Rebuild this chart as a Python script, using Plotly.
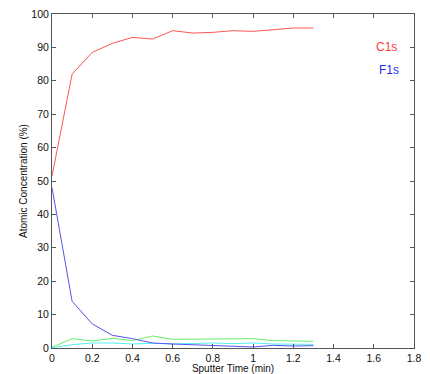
import plotly.graph_objects as go

time = [0, 0.1, 0.2, 0.3, 0.4, 0.5, 0.6, 0.7, 0.8, 0.9, 1.0, 1.1, 1.2, 1.3]
c1s = [51.5, 82.0, 88.5, 91.2, 93.0, 92.5, 95.0, 94.3, 94.5, 95.0, 94.8, 95.2, 95.8, 95.8]
f1s = [48.0, 14.0, 7.2, 3.8, 2.8, 1.5, 1.2, 1.0, 0.8, 0.6, 0.3, 0.8, 0.6, 0.7]
green = [0.2, 2.8, 2.1, 2.9, 2.2, 3.6, 2.6, 2.6, 2.8, 2.7, 2.8, 2.2, 2.0, 2.0]
cyan = [0.1, 1.0, 1.5, 1.5, 1.2, 1.4, 1.2, 1.3, 1.5, 1.3, 1.5, 1.2, 1.2, 1.1]

xticks = [0, 0.2, 0.4, 0.6, 0.8, 1, 1.2, 1.4, 1.6, 1.8]
xticklabels = ["0", "0.2", "0.4", "0.6", "0.8", "1", "1.2", "1.4", "1.6", "1.8"]
yticks = [0, 10, 20, 30, 40, 50, 60, 70, 80, 90, 100]

fig = go.Figure()
fig.add_trace(go.Scatter(x=time, y=green, mode="lines", line=dict(color="#66ee66", width=1), name="green"))
fig.add_trace(go.Scatter(x=time, y=cyan, mode="lines", line=dict(color="#55eeee", width=1), name="cyan"))
fig.add_trace(go.Scatter(x=time, y=f1s, mode="lines", line=dict(color="#5555ee", width=1), name="F1s"))
fig.add_trace(go.Scatter(x=time, y=c1s, mode="lines", line=dict(color="#ff5555", width=1), name="C1s"))

font_fam = "Liberation Sans, Arial, sans-serif"
axis_common = dict(
    showgrid=False, zeroline=False, showline=True, linecolor="#555555", linewidth=1,
    mirror="ticks", ticks="inside", ticklen=4, tickcolor="#555555", automargin=False,
    ticklabeloverflow="allow",
    tickfont=dict(family=font_fam, size=10.5, color="#111111"),
)
fig.update_xaxes(range=[0, 1.8], tickvals=xticks, ticktext=xticklabels,
                 title=dict(text="Sputter Time (min)", font=dict(family=font_fam, size=10, color="#111111"), standoff=0),
                 **axis_common)
fig.update_yaxes(range=[0, 100], tickvals=yticks, **axis_common)

fig.add_annotation(x=0, y=0.5, xref="paper", yref="paper", text="Atomic Concentration (%)",
                   showarrow=False, textangle=-90, xanchor="center", yanchor="middle", xshift=-29,
                   font=dict(family=font_fam, size=10, color="#111111"))
fig.add_annotation(x=0.925, y=0.928, xref="paper", yref="paper", text="C1s", showarrow=False,
                   font=dict(family=font_fam, size=12, color="#ff3b3b"), xanchor="center")
fig.add_annotation(x=0.93, y=0.859, xref="paper", yref="paper", text="F1s", showarrow=False,
                   font=dict(family=font_fam, size=12, color="#2b2bee"), xanchor="center")

# page body adds an 8px offset, so the figure is 8px smaller than the window
fig.update_layout(
    width=422, height=366, showlegend=False, autosize=False,
    margin=dict(l=44, r=16, t=6, b=26, pad=0),
    paper_bgcolor="white", plot_bgcolor="white",
)
fig.write_html("out.html")
